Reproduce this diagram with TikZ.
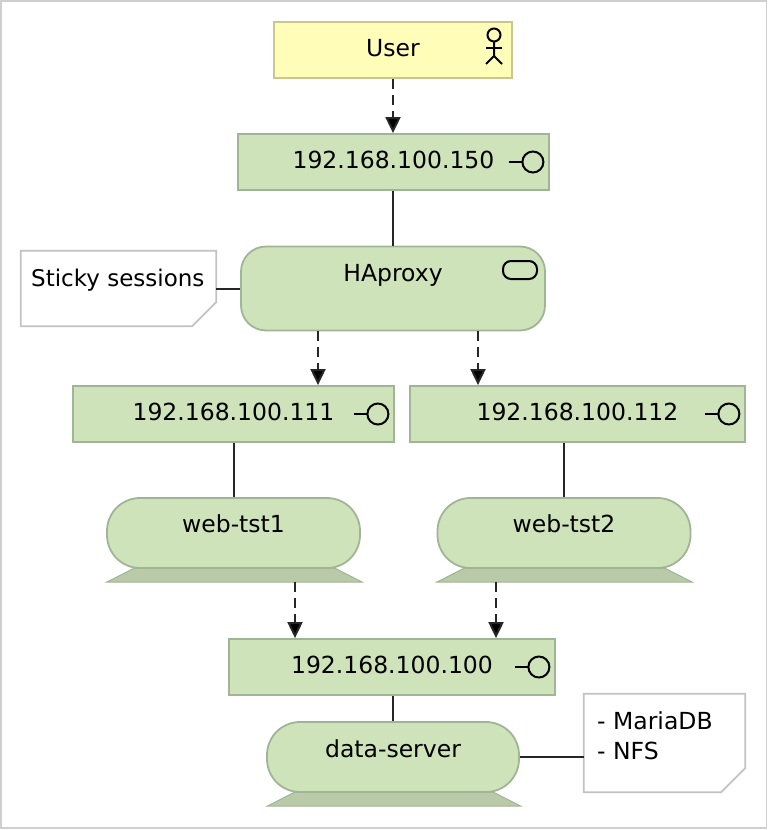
\documentclass[tikz,border=0pt]{standalone}
\usepackage{fontspec}
\setmainfont{DejaVu Sans}
\usetikzlibrary{arrows.meta,shapes.geometric}
\definecolor{techfill}{HTML}{CFE3BB}
\definecolor{techline}{HTML}{A0B596}
\definecolor{basefill}{HTML}{B8CAA8}
\definecolor{userfill}{HTML}{FFFDB8}
\definecolor{userline}{HTML}{C8C78E}
\definecolor{noteline}{HTML}{C2C2C2}
\definecolor{frameline}{HTML}{CFCFCF}
\tikzset{
	actorbox/.style={draw=userline, fill=userfill, line width=1.8pt, minimum width=238pt, minimum height=56pt, inner sep=0pt, text height=17pt, text depth=5pt},
	ipbox/.style={draw=techline, fill=techfill, line width=1.8pt, minimum height=56pt, inner sep=0pt, text height=17pt, text depth=5pt},
	servicebox/.style={draw=techline, fill=techfill, line width=1.8pt, rounded corners=25pt, minimum width=304pt, minimum height=84pt, inner sep=0pt},
	hostbox/.style={draw=techline, fill=techfill, line width=1.8pt, rounded corners=33pt, minimum width=253pt, minimum height=70pt, inner sep=0pt},
	hostbase/.style={draw=techline, fill=basefill, line width=1pt, trapezium, trapezium left angle=27, trapezium right angle=27, inner sep=0pt, outer sep=0pt, text width=#1, text height=14pt, text depth=0pt},
	notebox/.style={minimum width=#1, inner sep=0pt},
	noteline/.style={draw=noteline, fill=white, line width=1.8pt},
	boxtext/.style={inner sep=0pt, text height=17pt, text depth=0pt},
	uses/.style={line width=2pt, black!85, dash pattern=on 10pt off 6pt, -{Triangle[width=15pt,length=16pt,fill=black]}},
	assigned/.style={line width=2pt, black!85},
	iconline/.style={line width=2pt, black},
	lollipop/.pic={
		\draw[iconline] (0,0) circle (10.5pt);
		\draw[iconline] (-24,0) -- (-10.5,0);
	},
}
\begin{document}
\begin{tikzpicture}[x=1pt, y=-1pt, font=\fontsize{23.5}{30}\selectfont]
	\useasboundingbox (0,0) rectangle (768,830);
	\draw[frameline, line width=1.5pt] (1,1) rectangle (766.5,828);

	\node[actorbox] (user) at (393,50) {User};
	\node[ipbox, minimum width=311pt] (ip150) at (393.5,162) {192.168.100.150};
	\node[servicebox, label={[boxtext, yshift=-36pt]north:HAproxy}] (haproxy) at (393,288.5) {};

	\node[notebox=195pt, minimum height=75pt] (sticky) at (118.5,288.5) {};
	\draw[noteline] (sticky.north west) -- (sticky.north east) -- ([yshift=24pt]sticky.south east) -- ([xshift=-24pt]sticky.south east) -- (sticky.south west) -- cycle;
	\node[boxtext, anchor=base west, font=\fontsize{23}{30}\selectfont] (stickytext) at (31,286) {Sticky sessions};

	\node[ipbox, minimum width=321pt] (ip111) at (233.5,414) {192.168.100.111};
	\node[ipbox, minimum width=335pt] (ip112) at (577.5,414) {192.168.100.112};

	\node[hostbase=200pt] (base1) at (234.5,575) {};
	\node[hostbox, label={[boxtext, yshift=-36pt]north:web-tst1}] (web1) at (233.5,533) {};
	\node[hostbase=200pt] (base2) at (564.5,575) {};
	\node[hostbox, label={[boxtext, yshift=-36pt]north:web-tst2}] (web2) at (564,533) {};

	\node[ipbox, minimum width=326pt] (ip100) at (392,667) {192.168.100.100};
	\node[hostbase=198pt] (base3) at (394,799) {};
	\node[hostbox, minimum width=252pt, label={[boxtext, yshift=-37pt]north:data-server}] (data) at (393,757) {};

	\node[notebox=161pt, minimum height=98pt] (services) at (664.5,743) {};
	\draw[noteline] (services.north west) -- (services.north east) -- ([yshift=24pt]services.south east) -- ([xshift=-24pt]services.south east) -- (services.south west) -- cycle;
	\node[inner sep=0pt, anchor=north west, align=left] (servicestext) at (597,711) {- MariaDB\\- NFS};

	\coordinate (tip1) at (318,360);
	\coordinate (tip2) at (478,360);
	\coordinate (tip3) at (295,610);
	\coordinate (tip4) at (496,610);

	\draw[uses] (user) -- (user |- ip150.north);
	\draw[assigned] (haproxy |- ip150.south) -- (haproxy.north);
	\draw[assigned] (sticky.east) -- (haproxy.west);
	\draw[uses] (tip1 |- haproxy.south) -- (tip1 |- ip111.north);
	\draw[uses] (tip2 |- haproxy.south) -- (tip2 |- ip112.north);
	\draw[assigned] (web1 |- ip111.south) -- (web1.north);
	\draw[assigned] (web2 |- ip112.south) -- (web2.north);
	\draw[uses] (tip3 |- base1.south) -- (tip3 |- ip100.north);
	\draw[uses] (tip4 |- base2.south) -- (tip4 |- ip100.north);
	\draw[assigned] (data |- ip100.south) -- (data.north);
	\draw[assigned] (data.east) -- (data.east -| services.west);

	\draw[iconline] (494,35) circle (6.5pt);
	\draw[iconline] (494,41.5) -- (494,56) -- (486,64);
	\draw[iconline] (494,56) -- (502,64);
	\draw[iconline] (486,48) -- (502,48);
	\pic at ([xshift=-17pt]ip150.east) {lollipop};
	\pic at ([xshift=-17pt]ip111.east) {lollipop};
	\pic at ([xshift=-17pt]ip112.east) {lollipop};
	\pic at ([xshift=-17pt]ip100.east) {lollipop};
	\draw[iconline, rounded corners=8pt] (503,261) rectangle (537,279);
\end{tikzpicture}
\end{document}
